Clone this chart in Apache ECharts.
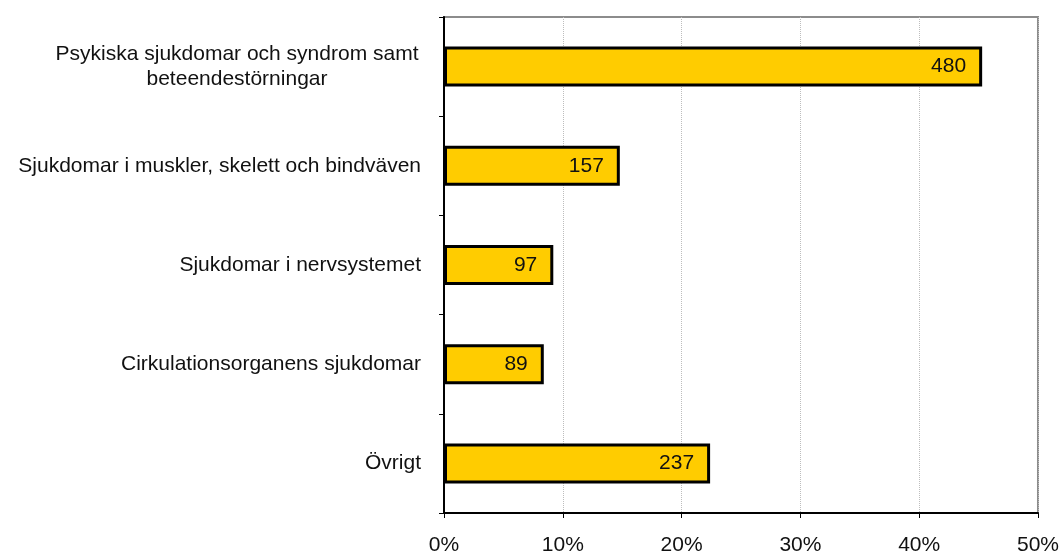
<!DOCTYPE html>
<html>
<head>
<meta charset="utf-8">
<script src="https://cdn.jsdelivr.net/npm/echarts@6/dist/echarts.min.js"></script>
<style>
  html, body { margin: 0; padding: 0; background: #fff; }
  #chart { width: 1062px; height: 558px; }
</style>
</head>
<body>
<div id="chart"></div>
<script>
// kategorier (uppifrån och ned)
const categories = [
  'Psykiska sjukdomar och syndrom samt\nbeteendestörningar',
  'Sjukdomar i muskler, skelett och bindväven',
  'Sjukdomar i nervsystemet',
  'Cirkulationsorganens sjukdomar',
  'Övrigt'
];
// antal (etiketter i staplarna)
const counts = [480, 157, 97, 89, 237];
// andel i procent (stapellängd)
const shares = [45.3, 14.8, 9.2, 8.4, 22.4];
const xTicks = [0, 10, 20, 30, 40, 50];

const chart = echarts.init(document.getElementById('chart'));
const font = 'Liberation Sans, Arial, sans-serif';

chart.setOption({
  animation: false,
  grid: {
    left: 444, right: 22, top: 17, bottom: 45,
    show: true, borderColor: '#8c8c8c', borderWidth: 2, backgroundColor: 'transparent'
  },
  xAxis: {
    type: 'value',
    min: xTicks[0],
    max: xTicks[xTicks.length - 1],
    interval: 10,
    axisLine: { show: true, lineStyle: { color: '#000', width: 2 } },
    axisTick: { show: true, length: 5, lineStyle: { color: '#000' } },
    splitLine: { show: true, lineStyle: { color: '#bdbdbd', type: 'dotted', width: 1 } },
    axisLabel: {
      formatter: v => v + '%',
      color: '#111', fontSize: 21, fontFamily: font, margin: 22
    }
  },
  yAxis: {
    type: 'category',
    inverse: true,
    data: categories,
    axisLine: { show: true, lineStyle: { color: '#000', width: 2 } },
    axisTick: { show: true, length: 5, lineStyle: { color: '#000' } },
    axisLabel: {
      color: '#111', fontSize: 21, fontFamily: font, margin: 23,
      lineHeight: 25,
      formatter: v => v.indexOf('\n') >= 0
        ? v.split('\n').map(s => '{c|' + s + '}').join('\n')
        : v,
      rich: {
        c: { width: 368, align: 'center', fontSize: 21, fontFamily: font, color: '#111', lineHeight: 25 }
      }
    }
  },
  series: [{
    type: 'bar',
    data: shares,
    barWidth: 40,
    itemStyle: { color: '#ffcc00', borderColor: '#000', borderWidth: 3 },
    label: {
      show: true,
      position: 'insideRight',
      distance: 16,
      color: '#111', fontSize: 21, fontFamily: font,
      formatter: p => counts[p.dataIndex]
    }
  }]
});
</script>
</body>
</html>
